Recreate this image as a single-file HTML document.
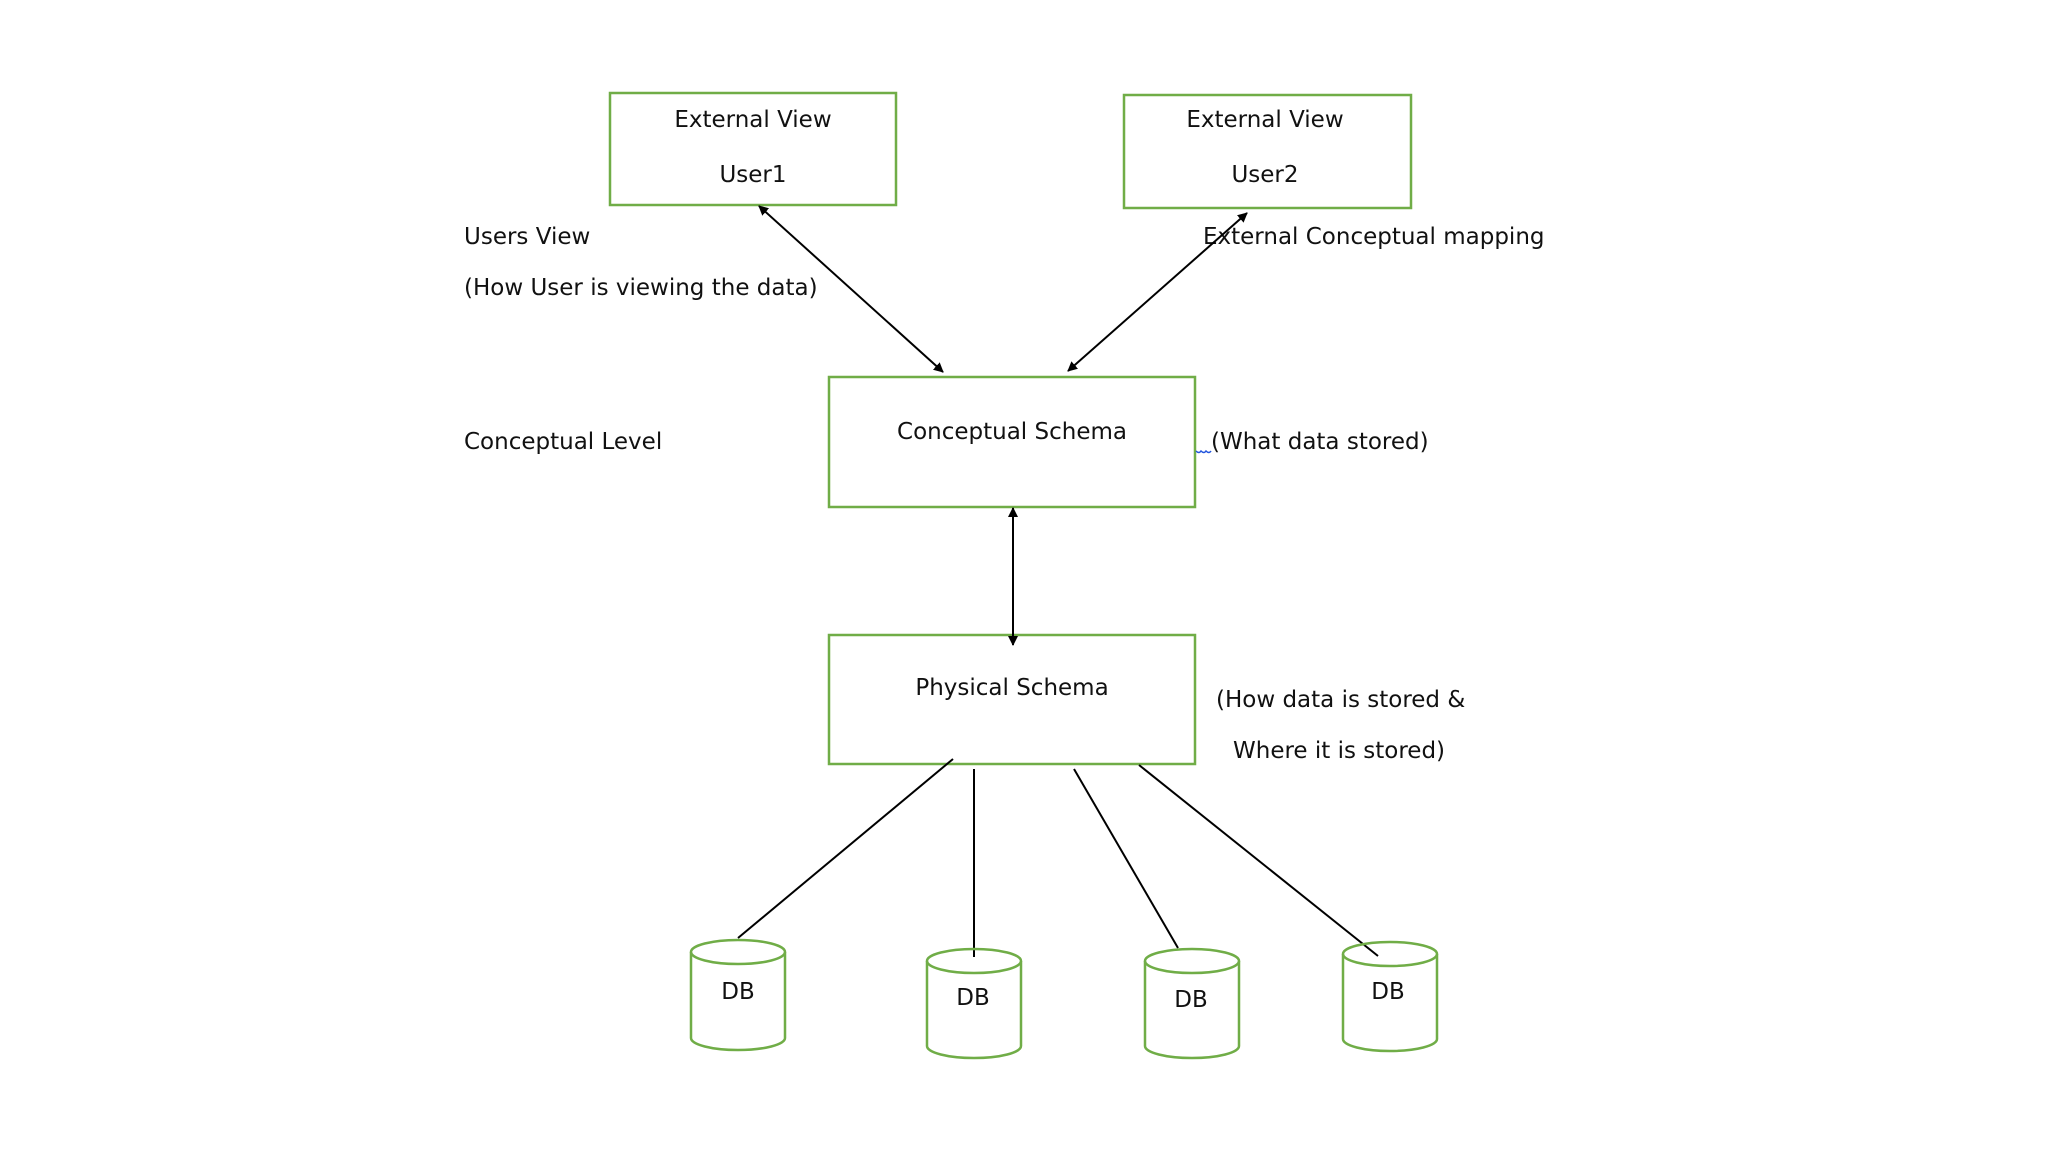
<!DOCTYPE html>
<html><head><meta charset="utf-8"><style>
html,body{margin:0;padding:0;background:#fff;}
svg text{font-family:"DejaVu Sans","Liberation Sans",sans-serif;fill:#111;}
</style></head><body>
<svg width="2048" height="1152" viewBox="0 0 2048 1152" xmlns="http://www.w3.org/2000/svg">
<defs>
<marker id="ah" markerWidth="10" markerHeight="10" refX="9" refY="5" orient="auto-start-reverse" markerUnits="userSpaceOnUse">
<path d="M0,0 L10,5 L0,10 z" fill="#000"/>
</marker>
</defs>
<rect width="2048" height="1152" fill="#fff"/>
<g fill="none" stroke="#70ad47" stroke-width="2.5">
<rect x="610" y="93" width="286" height="112"/>
<rect x="1124" y="95" width="287" height="113"/>
<rect x="829" y="377" width="366" height="130"/>
<rect x="829" y="635" width="366" height="129"/>
</g>
<g font-size="23" text-anchor="middle">
<text x="753" y="127">External View</text>
<text x="753" y="182">User1</text>
<text x="1265" y="127">External View</text>
<text x="1265" y="182">User2</text>
<text x="1012" y="439">Conceptual Schema</text>
<text x="1012" y="695">Physical Schema</text>
</g>
<g font-size="23">
<text x="464" y="244">Users View</text>
<text x="464" y="295">(How User is viewing the data)</text>
<text x="464" y="449">Conceptual Level</text>
<text x="1203" y="244">External Conceptual mapping</text>
<text x="1211" y="449">(What data stored)</text>
<text x="1216" y="707">(How data is stored &amp;</text>
<text x="1233" y="758">Where it is stored)</text>
</g>
<path d="M1196,451 q3,3 5,0 q3,3 5,0 q3,3 5,0" stroke="#2255dd" fill="none" stroke-width="1.5"/>
<g stroke="#000" stroke-width="2" fill="none">
<line x1="759" y1="206" x2="943" y2="372" marker-start="url(#ah)" marker-end="url(#ah)"/>
<line x1="1247" y1="213" x2="1068" y2="371" marker-start="url(#ah)" marker-end="url(#ah)"/>
<line x1="1013" y1="508" x2="1013" y2="645" marker-start="url(#ah)" marker-end="url(#ah)"/>
<line x1="953" y1="759" x2="738" y2="938"/>
<line x1="974" y1="769" x2="974" y2="957"/>
<line x1="1074" y1="769" x2="1178" y2="948"/>
<line x1="1139" y1="765" x2="1378" y2="956"/>
</g>
<g fill="none" stroke="#70ad47" stroke-width="2.5">
<g transform="translate(691,940)"><ellipse cx="47" cy="12" rx="47" ry="12"/><path d="M0,12 V98 A47,12 0 0 0 94,98 V12"/></g>
<g transform="translate(927,949)"><ellipse cx="47" cy="12" rx="47" ry="12"/><path d="M0,12 V97 A47,12 0 0 0 94,97 V12"/></g>
<g transform="translate(1145,949)"><ellipse cx="47" cy="12" rx="47" ry="12"/><path d="M0,12 V97 A47,12 0 0 0 94,97 V12"/></g>
<g transform="translate(1343,942)"><ellipse cx="47" cy="12" rx="47" ry="12"/><path d="M0,12 V97 A47,12 0 0 0 94,97 V12"/></g>
</g>
<g font-size="23" text-anchor="middle">
<text x="738" y="999">DB</text>
<text x="973" y="1005">DB</text>
<text x="1191" y="1007">DB</text>
<text x="1388" y="999">DB</text>
</g>
</svg>
</body></html>
